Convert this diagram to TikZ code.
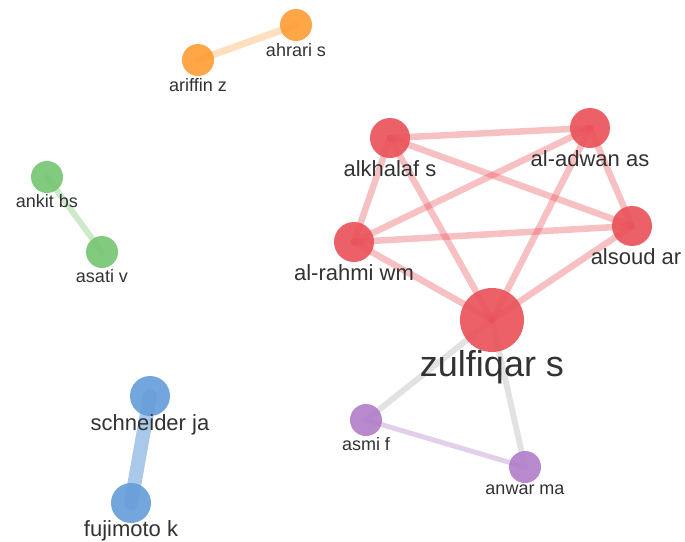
\documentclass[tikz,border=0pt]{standalone}
\usepackage{fontspec}
\setmainfont{Liberation Sans}
\usepackage{xcolor}
\usepackage{tikz}
\usetikzlibrary{positioning,backgrounds}

\definecolor{redN}{RGB}{234,80,88}
\definecolor{orangeN}{RGB}{255,156,52}
\definecolor{greenN}{RGB}{116,196,112}
\definecolor{blueN}{RGB}{100,156,216}
\definecolor{purpleN}{RGB}{176,124,200}
\definecolor{grayE}{RGB}{226,226,226}
\definecolor{txt}{RGB}{50,50,50}

\begin{document}
\begin{tikzpicture}[x=1pt, y=-1pt,
    person/.style={circle, inner sep=0pt, minimum size=#1, fill opacity=0.9},
    plabel/.style={inner sep=0pt, text=txt, font=\fontsize{#1}{#1}\selectfont},
    tie/.style={line width=#1, line cap=round, draw opacity=0.36}]
    \useasboundingbox (0,0) rectangle (685,541);

    % authors
    \node[person=32, fill=orangeN] (ahr) at (296,25) {};
    \node[person=32, fill=orangeN] (ari) at (198,60) {};
    \node[person=32, fill=greenN] (ank) at (47,177) {};
    \node[person=32, fill=greenN] (asa) at (102,252) {};
    \node[person=40, fill=redN] (alk) at (390,138) {};
    \node[person=40, fill=redN] (adw) at (590,128) {};
    \node[person=40, fill=redN] (rah) at (354,242) {};
    \node[person=40, fill=redN] (als) at (632,226) {};
    \node[person=64, fill=redN] (zul) at (492,320) {};
    \node[person=32, fill=purpleN] (asm) at (366,420) {};
    \node[person=32, fill=purpleN] (anw) at (525,467) {};
    \node[person=40, fill=blueN] (sch) at (150,396) {};
    \node[person=40, fill=blueN] (fuj) at (131,503) {};

    % names
    \node[plabel=18, below=2pt of ahr] (ahr-l) {ahrari s};
    \node[plabel=18, below=2pt of ari] (ari-l) {ariffin z};
    \node[plabel=18, below=1pt of ank] (ank-l) {ankit bs};
    \node[plabel=18, below=1pt of asa] (asa-l) {asati v};
    \node[plabel=22, below=2pt of alk] (alk-l) {alkhalaf s};
    \node[plabel=22, below=2pt of adw] (adw-l) {al-adwan as};
    \node[plabel=22, below=2pt of rah] (rah-l) {al-rahmi wm};
    \node[plabel=22, below=2pt of als, xshift=4pt] (als-l) {alsoud ar};
    \node[plabel=36, below=-2pt of zul] (zul-l) {zulfiqar s};
    \node[plabel=18, below=1pt of asm] (asm-l) {asmi f};
    \node[plabel=18, below=1pt of anw] (anw-l) {anwar ma};
    \node[plabel=22, below=-2pt of sch] (sch-l) {schneider ja};
    \node[plabel=22, below=-3pt of fuj] (fuj-l) {fujimoto k};

    % co-authorship links
    \begin{scope}[on background layer]
        \draw[tie=7, orangeN, draw opacity=0.32] (ahr.center) -- (ari.center);
        \draw[tie=6, greenN] (ank.center) -- (asa.center);
        \draw[tie=14, blueN, draw opacity=0.55] (sch.center) -- (fuj.center);
        \draw[tie=5, purpleN] (asm.center) -- (anw.center);
        \draw[tie=6, grayE, draw opacity=1] (zul.center) -- (asm.center);
        \draw[tie=6, grayE, draw opacity=1] (zul.center) -- (anw.center);
        \foreach \a/\b in {alk/adw, alk/rah, alk/als, alk/zul, adw/rah,
                           adw/als, adw/zul, rah/als, rah/zul, als/zul}
            \draw[tie=6.5, redN] (\a.center) -- (\b.center);
    \end{scope}
\end{tikzpicture}
\end{document}
